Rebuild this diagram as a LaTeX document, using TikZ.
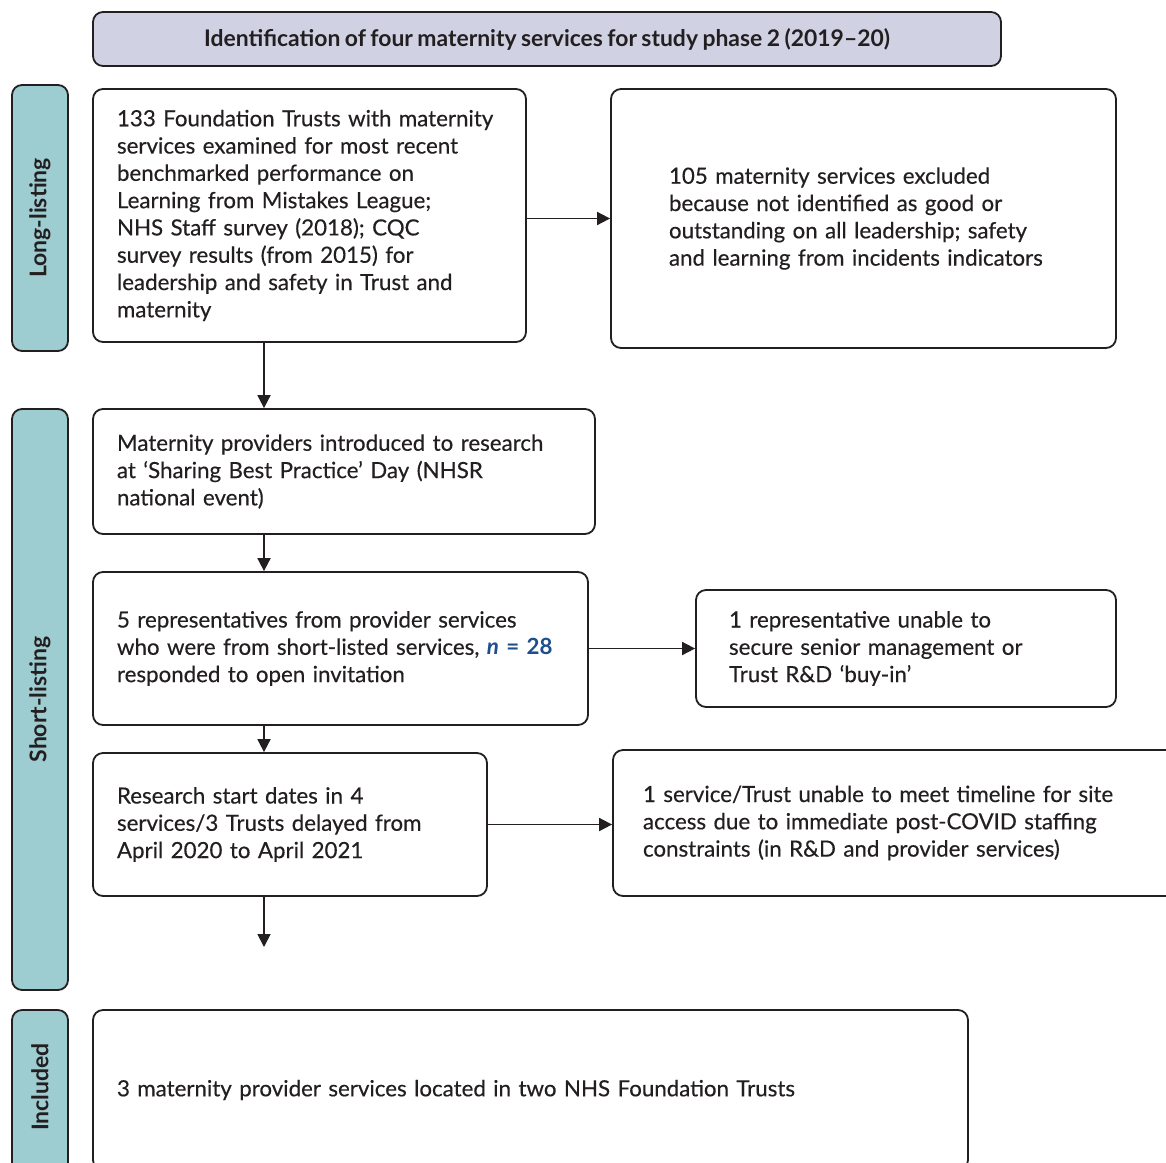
\documentclass[tikz,border=0pt]{standalone}
\usepackage{fontspec}
\setmainfont{Lato}[WordSpace=0.8, UprightFeatures={FakeBold=0.35}]
\usetikzlibrary{arrows.meta}
\definecolor{hdr}{HTML}{D0D2E4}
\definecolor{side}{HTML}{9DCDD1}
\definecolor{nblue}{HTML}{1F4E8C}
\definecolor{ink}{HTML}{231F20}
\begin{document}
\begin{tikzpicture}[x=1pt,y=-1pt,
  box/.style={draw=ink, line width=1.8pt, rounded corners=10pt, fill=white,
    inner xsep=0pt, inner ysep=0pt, align=left, text=ink,
    font=\fontsize{22.3}{27.3}\selectfont},
  hdrbox/.style={draw=ink, line width=1.8pt, rounded corners=10pt, fill=hdr,
    inner sep=0pt, text=ink, font=\bfseries\fontsize{22.9}{24}\selectfont},
  sidebar/.style={draw=ink, line width=1.8pt, rounded corners=10pt, fill=side,
    inner sep=0pt, minimum height=56pt, rotate=90, text=ink,
    font=\bfseries\fontsize{23}{24}\selectfont},
  arr/.style={draw=ink, line width=1.8pt, -{Triangle[length=13pt,width=13pt]}}]
\useasboundingbox (0,0) rectangle (1166,1162);
\clip (0,0) rectangle (1166,1162);

\node[hdrbox, minimum width=908pt, minimum height=54pt] (hd) at (547,39)
  {Identification of four maternity services for study phase 2 (2019–20)};

\node[sidebar, minimum width=266pt] (sl) at (40,218) {Long-listing};
\node[sidebar, minimum width=581pt] (ss) at (40,699.5) {Short-listing};
\node[sidebar, minimum width=170pt] (si) at (40,1095) {\hspace*{16pt}Included};

\node[box, minimum width=433pt, minimum height=253pt, text width=385pt] (b1) at (309.5,215.5)
  {133 Foundation Trusts with maternity\\ services examined for most recent\\ benchmarked performance on\\ Learning from Mistakes League;\\ NHS Staff survey (2018); CQC\\ survey results (from 2015) for\\ leadership and safety in Trust and\\ maternity};
\node[box, minimum width=505pt, minimum height=259pt, text width=389pt] (b2) at (863.5,218.5)
  {105 maternity services excluded\\ because not identified as good or\\ outstanding on all leadership; safety\\ and learning from incidents indicators};
\node[box, minimum width=502pt, minimum height=125pt, text width=454pt] (b3) at (344,471.5)
  {Maternity providers introduced to research\\ at ‘Sharing Best Practice’ Day (NHSR\\ national event)};
\node[box, minimum width=495pt, minimum height=153pt, text width=447pt] (b4) at (340.5,648.5)
  {5 representatives from provider services\\ who were from short-listed services, {\color{nblue}\bfseries\itshape n\upshape{} = 28}\\ responded to open invitation};
\node[box, minimum width=420pt, minimum height=117pt, text width=354pt] (b5) at (906,648.5)
  {1 representative unable to\\ secure senior management or\\ Trust R\&D ‘buy-in’};
\node[box, minimum width=394pt, minimum height=143pt, text width=346pt] (b6) at (290,824.5)
  {Research start dates in 4\\ services/3 Trusts delayed from\\ April 2020 to April 2021};
\node[box, minimum width=567pt, minimum height=146pt, text width=507pt] (b7) at (896.5,823)
  {1 service/Trust unable to meet timeline for site\\ access due to immediate post-COVID staffing\\ constraints (in R\&D and provider services)};
\node[box, minimum width=875pt, minimum height=160pt, text width=827pt] (b8) at (530.5,1090)
  {3 maternity provider services located in two NHS Foundation Trusts};

\coordinate (ax) at (264,0);
\coordinate (endv) at (264,947);

\draw[arr] (b1.east |- b2.west) -- (b2.west);
\draw[arr] (b1.south -| ax) -- (b3.north -| ax);
\draw[arr] (b3.south -| ax) -- (b4.north -| ax);
\draw[arr] (b4.east) -- (b5.west);
\draw[arr] (b4.south -| ax) -- (b6.north -| ax);
\draw[arr] (b6.east) -- (b6.east -| b7.west);
\draw[arr] (b6.south -| ax) -- (endv);
\end{tikzpicture}
\end{document}
